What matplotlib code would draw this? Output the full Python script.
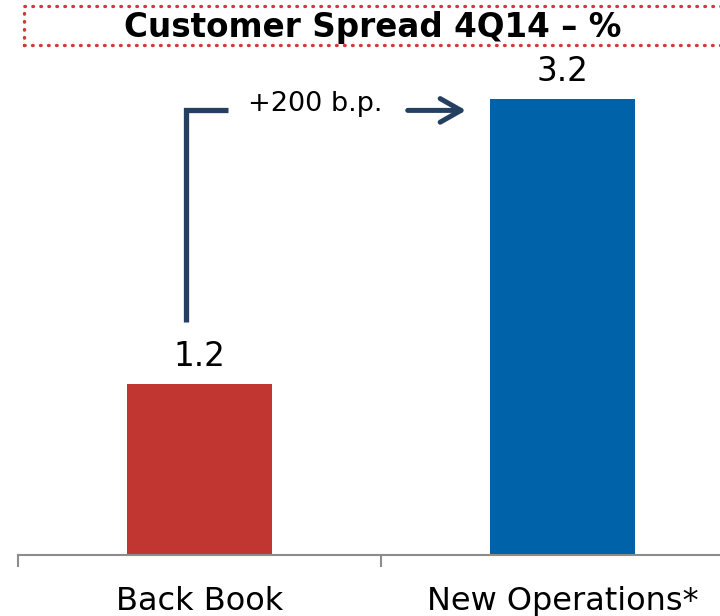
import matplotlib.pyplot as plt
from matplotlib.patches import Rectangle

plt.rcParams['font.family'] = ['DejaVu Sans']

categories = ['Back Book', 'New Operations*']
spread = [1.2, 3.2]
bar_colors = ['#C23631', '#0062A8']
title = 'Customer Spread 4Q14 \u2013 %'
delta_label = '+200 b.p.'

navy = '#243F60'

fig = plt.figure(figsize=(7.2, 6.16), dpi=100)
# axes runs past the right edge like the original slide crop
ax = fig.add_axes([18 / 720, 61 / 616, 726 / 720, 550 / 616])
ax.bar(range(len(categories)), spread, width=0.40, color=bar_colors, zorder=2)
ax.set_xlim(-0.5, 1.5)
ax.set_ylim(0, 550 / 142.5)

for i, v in enumerate(spread):
    ax.text(i, v + 0.08, '%.1f' % v, ha='center', va='bottom', fontsize=23.5)

ax.set_xticks([])
ax.set_yticks([])
for s in ['top', 'right', 'left']:
    ax.spines[s].set_visible(False)
ax.spines['bottom'].set_color('#8C8C8C')
ax.spines['bottom'].set_linewidth(1.5)
# category separators below the axis
for xb in [-0.5, 0.5, 1.5]:
    ax.plot([xb, xb], [0, -0.075], color='#8C8C8C', lw=1.5, clip_on=False)
for i, c in enumerate(categories):
    ax.text(i, -0.215, c, ha='center', va='top', fontsize=23)

# bracket + arrow showing the difference
ax.plot([-0.037, -0.037, 0.079], [1.635, 3.12, 3.12], color=navy, lw=3.8,
        solid_capstyle='butt', solid_joinstyle='miter')
ax.text(0.318, 3.165, delta_label, ha='center', va='center', fontsize=19.5)
ax.annotate('', xy=(0.742, 3.12), xytext=(0.566, 3.12),
            arrowprops=dict(arrowstyle='->,head_length=1.5,head_width=0.85',
                            color=navy, lw=3.6))

# dotted title box
fig.patches.append(Rectangle((24 / 720, 1 - 45 / 616), 0.99, 39 / 616,
                             transform=fig.transFigure, fill=False,
                             edgecolor='#D03A3A', lw=2.4,
                             linestyle=(0, (0.2, 2.2)), capstyle='round'))
fig.text(373 / 720, 1 - 27 / 616, title, ha='center', va='center',
         fontsize=23.5, fontweight='bold')

plt.savefig('out.png', dpi=100)
